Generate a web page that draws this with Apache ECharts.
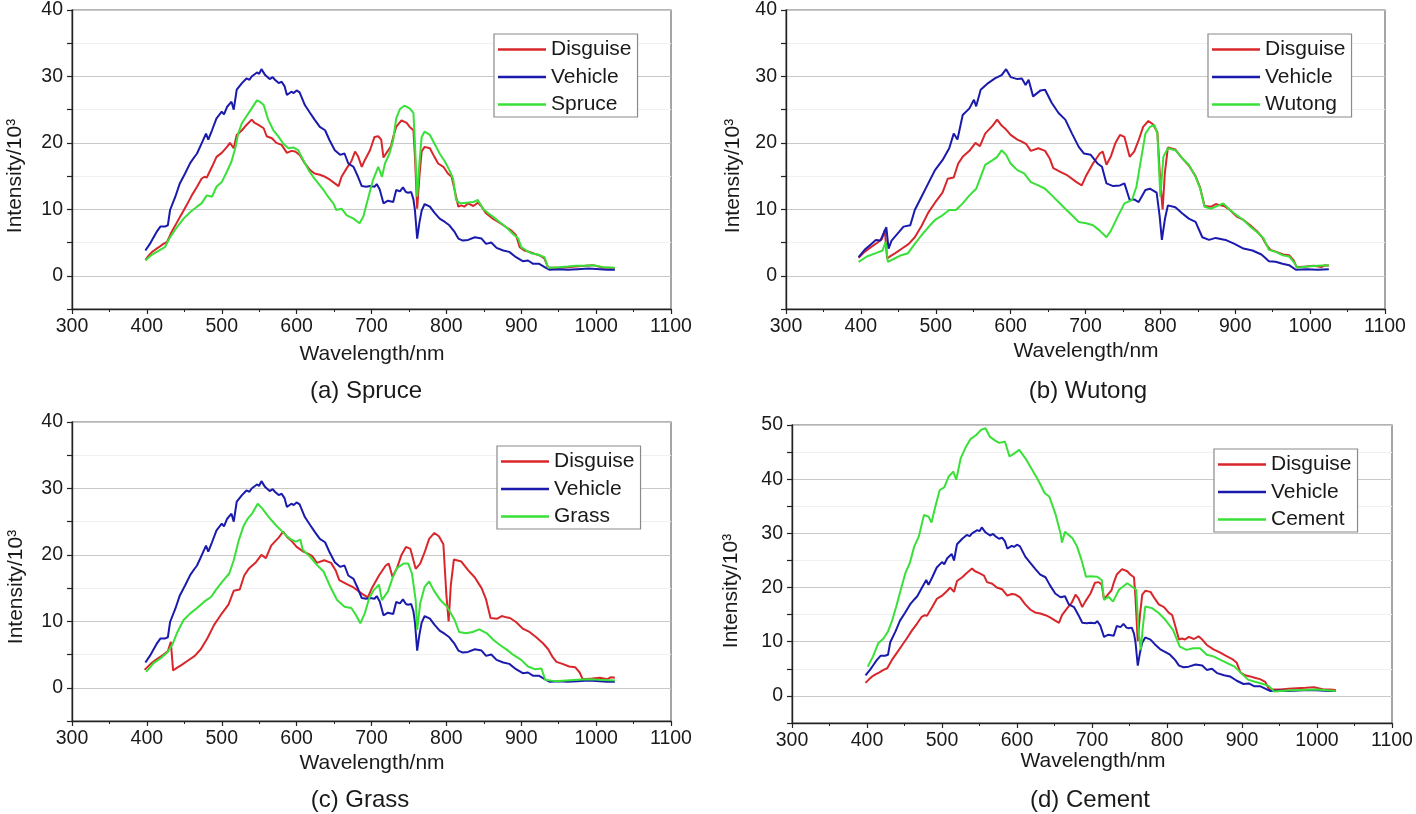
<!DOCTYPE html>
<html><head><meta charset="utf-8">
<script src="https://cdn.jsdelivr.net/npm/echarts@6/dist/echarts.min.js"></script>
<style>html,body{margin:0;padding:0;background:#fff}#c{width:1416px;height:814px}</style>
</head><body><div id="c"></div>
<script>
// ---------------- data (wavelength nm, intensity /10^3) ----------------
const SERIES_NAMES = ['Disguise', 'Vehicle'];
const PANEL_TITLES = ['(a) Spruce', '(b) Wutong', '(c) Grass', '(d) Cement'];
const BACKGROUND_NAMES = ['Spruce', 'Wutong', 'Grass', 'Cement'];
const X_AXIS_NAME = 'Wavelength/nm';
const Y_AXIS_NAME = 'Intensity/10³';

const VEHICLE_A = [[398,3.8],[404,4.8],[409,5.8],[413,6.6],[418,7.4],[424,7.4],[428,7.6],[431,9.9],[438,11.9],[444,13.9],[451,15.4],[458,17],[463,17.8],[467,18.4],[473,19.9],[479,21.4],[482,20.5],[487,21.9],[493,23.7],[500,24.7],[503,24.3],[507,25.4],[513,26.2],[516,25],[520,28],[527,29],[533,29.7],[537,29.5],[540,30],[547,30.6],[550,30.4],[553,31.1],[558,30.2],[564,29.6],[568,29.9],[571,29.5],[576,29],[580,29.2],[584,28.5],[587,27.2],[593,27.7],[596,27.5],[600,27.9],[604,27.6],[611,25.7],[618,24.5],[624,23.5],[631,22.4],[638,21.9],[644,20.4],[651,18.9],[658,18.2],[664,18.4],[669,16.9],[676,16.4],[682,14.9],[687,13.5],[693,13.4],[698,13.5],[704,13.4],[707,13.8],[711,13],[716,10.9],[722,11.3],[729,11.1],[733,12.9],[738,12.7],[742,13.3],[746,12.6],[749,12.5],[753,12.6],[756,11.5],[758,9.9],[761,5.6],[764,8],[767,9.8],[771,10.8],[778,10.4],[784,9.5],[791,8.6],[798,8.1],[804,7.6],[811,6.6],[816,5.6],[822,5.3],[829,5.4],[838,5.8],[847,5.6],[853,4.8],[860,5],[867,4.2],[876,3.8],[884,3.6],[893,2.8],[902,2.2],[909,2.3],[916,1.8],[924,1.8],[933,1.2],[938,0.9],[950,1.0],[962,0.9],[975,1.0],[990,1.1],[1005,1.0],[1015,0.9],[1025,0.9]];

const DISGUISE_A = [[398,2.4],[403,3.1],[407,3.6],[412,4],[416,4.3],[422,4.8],[427,5.1],[433,6.6],[440,8],[447,9.4],[453,10.6],[460,12.1],[467,13.4],[473,14.6],[477,14.9],[480,14.8],[487,16.4],[493,17.9],[500,18.5],[507,19.4],[511,20],[516,19.2],[520,21.2],[527,21.9],[533,22.7],[540,23.5],[544,23],[549,22.7],[556,22.2],[560,21],[567,20.7],[573,20],[580,19.7],[587,18.5],[593,18.8],[598,18.7],[604,18.2],[611,16.9],[618,15.9],[624,15.4],[631,15.2],[638,14.9],[644,14.5],[651,13.9],[656,13.5],[660,14.9],[667,16.2],[673,17.2],[678,18.7],[682,18],[687,16.4],[691,17.4],[698,18.9],[704,20.9],[709,21],[713,20.5],[716,17.8],[720,18.5],[722,18.2],[726,19.5],[729,20.9],[733,22.4],[740,23.4],[747,23],[751,22.4],[756,21.9],[758,18],[761,10.1],[764,15],[767,18.7],[771,19.4],[778,19.2],[784,17.9],[789,16.9],[796,16.4],[802,15.4],[807,14.9],[811,12.9],[816,10.4],[820,10.6],[824,10.4],[829,10.9],[836,10.5],[842,11],[847,10.4],[853,9.4],[862,8.6],[871,8],[880,7.3],[887,6.8],[893,6.1],[898,4.3],[904,3.8],[911,3.6],[918,3.3],[924,3.1],[931,2.6],[936,1.2],[951,1.2],[962,1.3],[973,1.4],[985,1.5],[996,1.6],[1009,1.2],[1017,1.2],[1025,1.1]];

const SPRUCE = [[398,2.3],[407,3.2],[416,3.8],[424,4.3],[431,5.8],[440,7.3],[449,8.6],[458,9.6],[467,10.4],[473,10.9],[480,12.1],[487,11.9],[493,13.4],[500,14.1],[507,15.7],[513,17.2],[518,19.2],[522,21.4],[527,23],[533,24],[540,25.2],[547,26.4],[551,26.2],[556,25.7],[562,23.5],[569,21.9],[576,20.9],[582,19.9],[589,19.2],[596,19.3],[602,18.9],[609,17.4],[616,15.9],[622,14.9],[629,13.9],[636,12.9],[642,11.9],[649,10.9],[653,9.9],[660,10.1],[667,9.1],[676,8.6],[684,7.9],[689,8.9],[696,11.9],[702,14.4],[709,16.4],[714,14.9],[718,16.9],[724,18.4],[729,20.4],[733,23.7],[738,25.1],[744,25.6],[751,25.2],[756,24.5],[758,20],[761,11.9],[764,17],[767,20.9],[771,21.7],[778,21.2],[784,19.9],[791,18.4],[798,17.2],[804,15.9],[809,14.6],[813,11.4],[818,10.9],[827,11],[836,11.1],[842,11.4],[849,10.1],[856,9.4],[862,8.9],[871,8.1],[880,7.3],[889,6.3],[896,5.6],[900,4.3],[907,3.8],[913,3.4],[922,3.2],[931,2.8],[936,1.2],[950,1.3],[962,1.4],[973,1.5],[985,1.5],[996,1.6],[1010,1.3],[1025,1.2]];

const DISGUISE_B = [[397,2.7],[405,3.6],[412,4.2],[421,4.9],[428,5.5],[432,6.9],[435,2.6],[440,3],[446,3.4],[455,4.1],[464,4.8],[472,5.8],[481,7.5],[490,9.5],[499,11],[509,12.5],[516,14.6],[524,14.8],[530,16.9],[536,17.9],[545,18.8],[553,20],[559,19.5],[566,21.4],[576,22.6],[582,23.5],[588,22.6],[594,22],[600,21.2],[609,20.5],[615,20.2],[621,19.8],[627,18.8],[637,19.2],[646,18.8],[652,17.7],[657,16.2],[667,15.6],[676,15.1],[688,14.1],[695,13.6],[701,15.1],[710,16.9],[719,18.4],[723,18.7],[728,16.7],[734,18],[740,20],[746,21.2],[752,20.9],[759,17.9],[765,18.7],[771,20.4],[777,22.4],[784,23.3],[790,22.8],[796,21.6],[800,14],[803,10],[806,15.5],[810,19.3],[820,19],[829,17.7],[838,16.6],[847,15],[853,13.3],[859,10.5],[868,10.4],[874,10.8],[880,10.6],[885,10.5],[893,9.9],[902,8.9],[911,8.4],[920,7.6],[929,6.7],[936,5.8],[942,4.6],[947,3.9],[955,3.6],[964,3.2],[972,3.1],[978,2.3],[982,1.3],[995,1.4],[1005,1.5],[1015,1.3],[1020,1.6],[1025,1.5]];

const VEHICLE_B = [[397,2.8],[405,3.9],[414,4.8],[420,5.4],[426,5.3],[430,6.3],[434,7.3],[437,4.1],[441,5.3],[451,6.6],[457,7.4],[466,7.6],[472,9.9],[481,11.9],[490,13.9],[499,15.9],[509,17.4],[518,19.2],[524,21.4],[529,20.5],[536,24.2],[545,25.2],[551,26.5],[554,25.5],[560,28],[570,29],[579,29.7],[588,30.2],[594,31.1],[600,29.9],[609,29.6],[615,29.7],[620,28.7],[624,29.5],[630,27],[640,27.9],[646,28],[655,26],[664,24.5],[673,23.5],[682,21.4],[691,19.4],[698,18.4],[707,18.2],[716,16.9],[722,16.4],[728,13.9],[737,13.5],[746,13.6],[752,13.9],[759,11.4],[765,11.5],[771,11.1],[780,12.9],[786,13.1],[795,12.5],[799,9],[802,5.4],[806,8.5],[810,10.6],[820,10.3],[829,9.4],[838,8.6],[847,8.1],[856,5.8],[865,5.4],[874,5.7],[887,5.4],[899,4.8],[911,4.1],[923,3.8],[935,3.2],[945,2.2],[954,2.1],[963,1.8],[972,1.6],[981,0.9],[995,1.0],[1010,0.9],[1025,1.0]];

const WUTONG = [[397,2.1],[408,2.9],[420,3.4],[429,3.8],[433,5.1],[436,2.1],[445,2.6],[454,3.1],[463,3.4],[472,4.8],[481,6.1],[490,7.3],[499,8.4],[509,9.1],[518,9.9],[527,9.9],[536,10.9],[545,12.1],[554,13.1],[560,14.9],[566,16.7],[576,17.4],[582,17.9],[588,18.9],[594,18.2],[600,16.9],[609,15.9],[618,15.4],[627,14.1],[637,13.6],[646,13.1],[655,12.1],[664,11.1],[673,10.1],[682,9.1],[691,8.1],[701,7.9],[710,7.6],[719,6.8],[728,5.8],[734,6.8],[743,8.9],[752,10.9],[762,11.4],[768,13.4],[774,17.4],[780,21.4],[786,22.4],[792,22.7],[796,21.4],[800,11.9],[804,17.9],[810,19.2],[820,18.9],[829,17.7],[838,16.7],[847,14.9],[853,13.2],[859,10.4],[868,10.1],[874,10.4],[884,10.9],[893,9.9],[902,9.1],[911,8.4],[920,7.4],[929,6.6],[938,5.6],[945,3.9],[954,3.6],[963,3.1],[972,2.9],[978,2.1],[983,1.2],[995,1.4],[1010,1.5],[1025,1.6]];

const GRASS = [[399,2.4],[409,3.7],[418,4.4],[428,5.4],[434,6.5],[440,8.2],[449,10.2],[458,11.2],[467,12],[477,13],[486,13.7],[492,14.7],[501,16],[510,17.2],[516,19.2],[523,22.3],[529,24.3],[535,25.5],[541,26.3],[548,27.7],[554,27],[562,25.8],[572,24.5],[581,23.5],[587,22.8],[593,22.3],[599,22],[605,22.3],[608,20.8],[618,19.7],[627,18.5],[636,17.5],[645,15.2],[654,13.2],[664,12.2],[673,12],[679,11],[685,9.7],[691,11.2],[697,13.5],[703,14.7],[710,15.5],[714,13.2],[722,14.5],[728,16.5],[734,18],[743,18.7],[749,18.7],[754,17.2],[759,13.2],[761,8.7],[765,12.7],[771,15.2],[777,16],[783,14.7],[792,13.2],[801,12.2],[811,10.2],[817,8.4],[826,8.2],[835,8.4],[844,8.8],[854,8.2],[863,7.2],[872,6.4],[881,5.7],[890,4.9],[900,4.2],[909,3.2],[918,2.8],[927,2.9],[932,1.2],[945,1.0],[960,1.1],[975,1.2],[990,1.3],[1005,1.2],[1025,1.1]];

const CEMENT = [[401,5.4],[408,7.3],[415,9.7],[422,10.6],[428,11.9],[433,13.7],[439,16.5],[445,19.6],[451,22.6],[457,24.5],[463,27.6],[469,29.4],[476,33.4],[482,33.1],[486,32],[491,34.9],[497,38],[503,38.5],[509,40.5],[515,41.4],[519,39.9],[525,43.9],[532,46],[538,47.4],[546,48.2],[552,49.1],[558,49.4],[564,47.8],[570,47.2],[576,46.7],[584,46.9],[590,44.2],[597,44.8],[603,45.4],[611,43.9],[619,42],[628,39.9],[637,37.4],[643,36.8],[651,33.7],[658,30],[660,28.3],[664,30.3],[674,29.1],[680,27.6],[686,25.1],[692,22],[698,22.1],[707,22],[713,21.4],[716,17.7],[722,18.3],[728,17.4],[736,19.6],[747,20.8],[753,20.2],[759,19.6],[762,12],[765,8.5],[768,13],[771,16.5],[780,16.2],[789,15.3],[798,14],[808,12.2],[817,9.1],[826,8.5],[835,8.8],[844,8.8],[853,7.6],[862,7.3],[872,6.6],[881,6],[890,5.4],[899,4.2],[908,3],[917,2.6],[926,2.3],[936,1.8],[943,0.8],[960,1.0],[980,1.1],[1000,1.2],[1025,0.9]];

const PANEL_DISGUISE = [DISGUISE_A, DISGUISE_B, DISGUISE_B, DISGUISE_A];
const PANEL_VEHICLE = [VEHICLE_A, VEHICLE_B, VEHICLE_A, VEHICLE_A];
const PANEL_BACKGROUND = [SPRUCE, WUTONG, GRASS, CEMENT];
const Y_MAX = [40, 40, 40, 50];
const X_MIN = 300, X_MAX = 1100, X_STEP = 100;
const Y_MIN = -5, Y_STEP = 5;

// ---------------- layout & style ----------------
const FONT = "'Liberation Sans', Arial, Helvetica, sans-serif";
const COLORS = ['#d8262b', '#1a1aad', '#38e038'];
const GRIDS = [
  {left: 72,  top: 10,  width: 599, height: 299},
  {left: 786, top: 10,  width: 599, height: 299},
  {left: 72,  top: 422, width: 599, height: 299},
  {left: 792, top: 425, width: 600, height: 298}
];
const LEGEND_POS = [[494, 34], [1208, 34], [497, 446], [1214, 449]];
const TITLE_POS = [[366, 391], [1088, 391], [360, 800], [1090, 800]];
const XNAME_POS = [[372, 354], [1086, 351], [372, 763], [1093, 761]];
const YNAME_POS = [[15, 176], [733, 176], [16, 587], [731, 591]];

const grid = [], xAxis = [], yAxis = [], series = [], legend = [], graphic = [];
GRIDS.forEach((g, i) => {
  grid.push(Object.assign({show: true, borderColor: '#6a6a6a', borderWidth: 1.2, backgroundColor: '#fff', containLabel: false, outerBoundsMode: 'none'}, g));
  xAxis.push({
    type: 'value', gridIndex: i, min: X_MIN, max: X_MAX, interval: X_STEP,
    axisLine: {show: true, onZero: false, lineStyle: {color: '#222', width: 1.4}},
    axisTick: {show: true, length: 5, lineStyle: {color: '#222', width: 1.2}},
    minorTick: {show: true, splitNumber: 2, length: 3, lineStyle: {color: '#222', width: 1}},
    splitLine: {show: false},
    axisLabel: {margin: 8, color: '#1a1a1a', fontSize: 19.5, fontFamily: FONT, formatter: v => String(v)}
  });
  yAxis.push({
    type: 'value', gridIndex: i, min: Y_MIN, max: Y_MAX[i], interval: Y_STEP,
    axisLine: {show: true, onZero: false, lineStyle: {color: '#222', width: 1.4}},
    axisTick: {show: true, length: 5, lineStyle: {color: '#222', width: 1.2}},
    splitLine: {show: true, lineStyle: {color: ['#f0f0f0', '#c9c9c9'], width: 1.2}},
    axisLabel: {margin: 9, color: '#1a1a1a', fontSize: 19.5, fontFamily: FONT,
      formatter: v => (v % 10 === 0 ? String(v) : '')}
  });
  const names = [SERIES_NAMES[0], SERIES_NAMES[1], BACKGROUND_NAMES[i]];
  const datas = [PANEL_DISGUISE[i], PANEL_VEHICLE[i], PANEL_BACKGROUND[i]];
  names.forEach((n, k) => {
    series.push({
      type: 'line', name: n, xAxisIndex: i, yAxisIndex: i, data: datas[k],
      showSymbol: false, symbol: 'none', smooth: false, z: 2 + k,
      lineStyle: {color: COLORS[k], width: 2}, itemStyle: {color: COLORS[k]},
      emphasis: {disabled: true}
    });
  });
  legend.push({
    left: LEGEND_POS[i][0], top: LEGEND_POS[i][1], orient: 'vertical',
    data: names, icon: 'rect', itemWidth: 48, itemHeight: 2.5, itemGap: 6.5,
    padding: [5, 6, 2, 4], backgroundColor: '#fff', borderColor: '#8a8a8a', borderWidth: 1.2,
    selectedMode: false,
    textStyle: {fontSize: 21, color: '#1a1a1a', fontFamily: FONT}
  });
  graphic.push({type: 'text', x: TITLE_POS[i][0], y: TITLE_POS[i][1],
    style: {text: PANEL_TITLES[i], font: '24px ' + FONT, fill: '#1a1a1a', align: 'center', verticalAlign: 'middle', textAlign: 'center', textVerticalAlign: 'middle'}});
  graphic.push({type: 'text', x: XNAME_POS[i][0], y: XNAME_POS[i][1],
    style: {text: X_AXIS_NAME, font: '21px ' + FONT, fill: '#1a1a1a', align: 'center', verticalAlign: 'middle', textAlign: 'center', textVerticalAlign: 'middle'}});
  graphic.push({type: 'text', x: YNAME_POS[i][0], y: YNAME_POS[i][1], rotation: Math.PI / 2,
    style: {text: Y_AXIS_NAME, font: '21px ' + FONT, fill: '#1a1a1a', align: 'center', verticalAlign: 'middle', textAlign: 'center', textVerticalAlign: 'middle'}});
});

const chart = echarts.init(document.getElementById('c'), null, {renderer: 'canvas'});
chart.setOption({animation: false, backgroundColor: '#fff', grid, xAxis, yAxis, series, legend, graphic});
</script></body></html>
